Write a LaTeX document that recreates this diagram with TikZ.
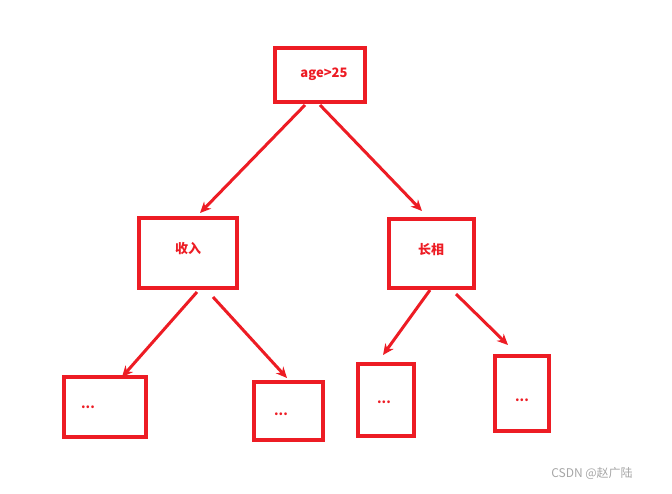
\documentclass[tikz,border=0pt]{standalone}
\usepackage{fontspec}
\setmainfont{Liberation Sans}
\newfontfamily\cjk{Noto Sans CJK SC}
\usetikzlibrary{arrows.meta}
\definecolor{treered}{HTML}{ED1C24}
\begin{document}
\begin{tikzpicture}[x=1pt,y=-1pt,
	box/.style={draw=treered,line width=4pt,inner sep=0pt},
	lbl/.style={text=treered,font=\bfseries\cjk\fontsize{13}{15}\selectfont},
	edge/.style={draw=treered,line width=3pt,-{Stealth[length=11pt,width=10pt]}}]
	\useasboundingbox (0,0) rectangle (672,493);
	% boxes
	\node[box,minimum width=90pt,minimum height=54pt] (root) at (320,75) {};
	\node[box,minimum width=98pt,minimum height=70pt] (income) at (188,253) {};
	\node[box,minimum width=85pt,minimum height=69pt] (looks) at (431.5,253.5) {};
	\node[box,minimum width=82pt,minimum height=60pt] (leafa) at (105,407) {};
	\node[box,minimum width=69pt,minimum height=58pt] (leafb) at (288.5,411) {};
	\node[box,minimum width=56pt,minimum height=72pt] (leafc) at (386,400) {};
	\node[box,minimum width=54pt,minimum height=75pt] (leafd) at (522,393.5) {};
	% texts
	\node[lbl] (roottxt) at (324,74) {age>25};
	\node[lbl] (incometxt) at (188,249) {收入};
	\node[lbl] (lookstxt) at (431,250) {长相};
	\node[lbl] (leafatxt) at (88,407) {...};
	\node[lbl] (leafbtxt) at (281,414) {...};
	\node[lbl] (leafctxt) at (384,402) {...};
	\node[lbl] (leafdtxt) at (522,400) {...};
	% arrow ends
	\coordinate (r1) at (305,105); \coordinate (r1e) at (200,213);
	\coordinate (r2) at (320,105); \coordinate (r2e) at (422,211);
	\coordinate (i1) at (197,292); \coordinate (i1e) at (122,377);
	\coordinate (i2) at (213,297); \coordinate (i2e) at (287,378);
	\coordinate (l1) at (430,290); \coordinate (l1e) at (383,355);
	\coordinate (l2) at (456,294); \coordinate (l2e) at (508,345);
	\draw[edge] (r1) -- (r1e);
	\draw[edge] (r2) -- (r2e);
	\draw[edge] (i1) -- (i1e);
	\draw[edge] (i2) -- (i2e);
	\draw[edge] (l1) -- (l1e);
	\draw[edge] (l2) -- (l2e);
	\node[text=gray!70,font=\cjk\fontsize{12}{14}\selectfont] (mark) at (592,473) {CSDN @赵广陆};
\end{tikzpicture}
\end{document}
